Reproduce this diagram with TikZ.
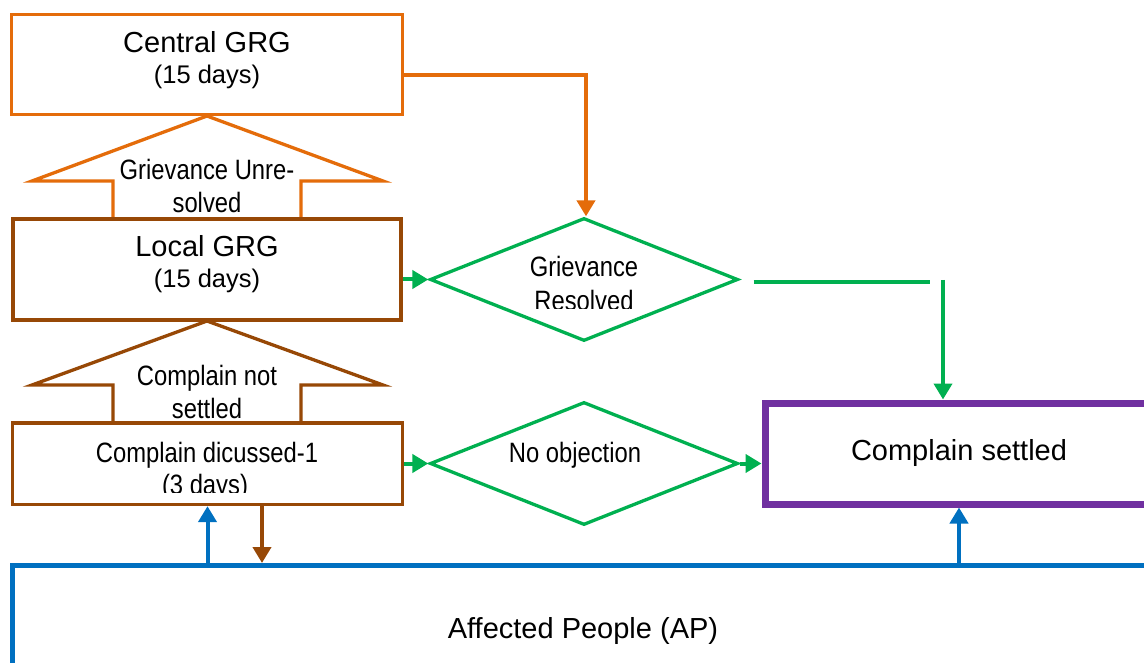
\documentclass[tikz,border=0pt]{standalone}
\usepackage{fontspec}
\setmainfont{Liberation Sans}
\newfontfamily\narf[FakeStretch=0.85]{Liberation Sans}
\usetikzlibrary{shapes.geometric,arrows.meta}
\definecolor{corange}{HTML}{E46C0A}
\definecolor{cbrown}{HTML}{974806}
\definecolor{cgreen}{HTML}{00B050}
\definecolor{cpurple}{HTML}{7030A0}
\definecolor{cblue}{HTML}{0070C0}
\begin{document}
\begin{tikzpicture}[x=1pt,y=-1pt,
  box/.style={draw, fill=white, rectangle, inner sep=0pt},
  diam/.style={draw=cgreen, line width=3.3pt, diamond, inner sep=0pt, fill=white,
    minimum width=308pt, minimum height=123pt},
  txt/.style={inner sep=0pt, anchor=base},
  bigf/.style={font=\fontsize{29}{32}\selectfont},
  dayf/.style={font=\fontsize{25.5}{30}\selectfont},
  smallf/.style={font=\narf\fontsize{28}{32}\selectfont},
  conn/.style={line width=4pt, -{Triangle[length=16pt,width=18pt]}},
  blockarrow/.style={line width=3.3pt, fill=white, line join=miter}
]
\useasboundingbox (0,0) rectangle (1144,663);
\clip (0,0) rectangle (1144,663);

% block arrows (up)
\draw[blockarrow, draw=corange] (207,116)--(383,181)--(301,181)--(301,221)--(113,221)--(113,181)--(32,181)--cycle;
\node[txt, smallf] (unres1) at (207,180) {Grievance Unre-};
\node[txt, smallf] (unres2) at (207,213) {solved};

\draw[blockarrow, draw=cbrown] (207,321)--(383,385)--(301,385)--(301,425)--(113,425)--(113,385)--(32,385)--cycle;
\node[txt, smallf] (nots1) at (207,385) {Complain not};
\node[txt, smallf] (nots2) at (207,418) {settled};

% boxes
\node[box, draw=corange, line width=3.3pt, minimum width=391pt, minimum height=100pt] (central) at (207,64.5) {};
\node[txt, bigf] (centralt) at (207,53) {Central GRG};
\node[txt, dayf] (centrald) at (207,84) {(15 days)};

\node[box, draw=cbrown, line width=4.5pt, minimum width=388pt, minimum height=101pt] (local) at (207,269.5) {};
\node[txt, bigf] (localt) at (207,257) {Local GRG};
\node[txt, dayf] (locald) at (207,288) {(15 days)};

\node[box, draw=cbrown, line width=3.3pt, minimum width=390pt, minimum height=81.5pt] (cd) at (207.5,463.75) {};
\node[txt, smallf] (cdt) at (207,462) {Complain dicussed-1};
\begin{scope}
  \clip (100,470) rectangle (320,492);
  \node[txt, smallf] (cdd) at (205,494) {(3 days)};
\end{scope}

\node[box, draw=cpurple, line width=7pt, minimum width=388pt, minimum height=101pt] (settled) at (959,453.5) {};
\node[txt, bigf] (settledt) at (959,460) {Complain settled};

\node[box, draw=cblue, line width=5pt, minimum width=1141pt, minimum height=129.5pt] (ap) at (583,630.25) {};
\node[txt, bigf] (apt) at (583,638) {Affected People (AP)};

% diamonds
\node[diam] (d1) at (584,279.5) {};
\node[txt, smallf] (d1a) at (584,277) {Grievance};
\begin{scope}
  \clip (480,285) rectangle (690,309);
  \node[txt, smallf] (d1b) at (584,311) {Resolved};
\end{scope}

\node[diam] (d2) at (584,463.5) {};
\node[txt, smallf] (d2t) at (575,462) {No objection};

% connectors
\coordinate (ocorner) at (586,75);
\draw[conn, draw=corange] (central.east |- ocorner) -- (ocorner) -- (ocorner |- d1.north);

\draw[conn, draw=cgreen] (local.east |- d1.west) -- (d1.west);
\draw[conn, draw=cgreen] (cd.east |- d2.west) -- (d2.west);
\draw[conn, draw=cgreen] (d2.east) -- (settled.west |- d2.east);

\coordinate (gend) at (930,282);
\coordinate (gstart) at (943,280);
\draw[draw=cgreen, line width=4pt, shorten <=14pt] (d1.east |- gend) -- (gend);
\draw[conn, draw=cgreen] (gstart) -- (settled.north -| gstart);

\draw[conn, draw=cblue] (ap.north -| settled.south) -- (settled.south);
\draw[conn, draw=cblue] (ap.north -| cd.south) -- (cd.south);
\coordinate (brx) at (262,0);
\draw[conn, draw=cbrown] (cd.south -| brx) -- (ap.north -| brx);
\end{tikzpicture}
\end{document}
